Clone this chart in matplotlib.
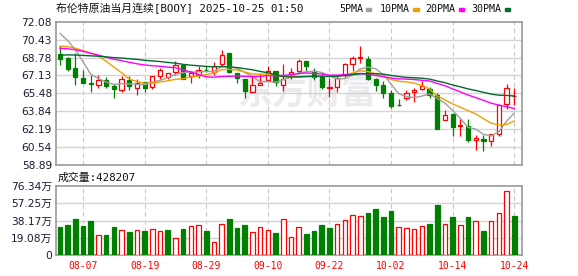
import matplotlib
matplotlib.use("Agg")
import matplotlib.pyplot as plt
import numpy as np
import pandas as pd

# daily candles, 2025-08-04 .. 2025-10-24 (60 trading days)
dates = pd.bdate_range("2025-08-04", "2025-10-24")
opens = [69.07, 68.74, 67.79, 66.89, 66.43, 66.29, 66.68, 66.17, 65.82, 66.74,
         65.97, 66.56, 66.08, 67.04, 66.98, 67.43, 68.09, 67.07, 67.13, 67.68,
         67.43, 68.23, 69.17, 67.37, 66.83, 65.64, 66.23, 66.74, 67.58, 66.23,
         67.28, 67.58, 68.47, 67.43, 66.98, 66.02, 66.08, 67.19, 68.23, 68.74,
         68.62, 66.77, 66.23, 65.52, 64.44, 65.10, 65.58, 65.88, 65.88, 65.34,
         63.07, 63.55, 62.50, 62.47, 61.16, 61.28, 61.07, 61.76, 64.50, 65.22]
highs = [69.88, 68.86, 69.16, 67.67, 67.13, 67.13, 67.01, 66.38, 67.04, 67.04,
         66.83, 66.56, 67.07, 67.82, 67.37, 68.47, 68.09, 67.52, 68.03, 68.03,
         68.41, 69.46, 69.23, 67.37, 66.83, 67.04, 67.37, 68.03, 67.58, 68.18,
         67.82, 68.68, 68.47, 67.82, 67.37, 66.89, 67.19, 68.32, 68.92, 69.82,
         68.92, 66.89, 66.59, 65.76, 64.95, 65.79, 65.94, 66.59, 66.08, 65.49,
         63.99, 63.70, 63.10, 63.13, 61.61, 61.61, 61.76, 64.50, 66.38, 65.94]
lows = [68.09, 67.52, 66.23, 66.40, 65.58, 65.94, 65.96, 65.10, 65.64, 65.82,
        65.34, 65.64, 65.88, 66.83, 66.83, 67.13, 66.77, 66.44, 66.89, 67.43,
        67.19, 68.03, 67.35, 66.44, 65.10, 65.64, 66.23, 66.68, 66.17, 65.70,
        66.83, 67.28, 67.58, 66.68, 65.88, 65.19, 65.58, 66.98, 67.58, 68.32,
        66.68, 65.70, 65.04, 64.14, 64.29, 64.89, 64.68, 65.79, 65.04, 62.20,
        63.07, 61.59, 61.59, 60.98, 60.26, 60.20, 60.62, 61.52, 64.00, 64.44]
closes = [68.68, 67.73, 66.98, 66.44, 66.38, 66.68, 66.17, 65.88, 66.83, 66.20,
          66.47, 66.00, 67.07, 67.67, 67.37, 68.09, 66.77, 67.37, 67.67, 67.62,
          68.03, 68.98, 67.41, 66.92, 65.70, 66.23, 66.47, 67.58, 66.53, 66.83,
          67.49, 68.47, 67.97, 66.98, 66.10, 66.06, 66.89, 68.18, 68.71, 68.83,
          66.83, 66.23, 65.49, 64.32, 64.38, 65.49, 65.79, 66.17, 65.34, 62.20,
          63.46, 62.41, 62.56, 61.16, 61.37, 61.07, 61.70, 64.44, 65.94, 65.28]
# closes before the visible window (needed for the moving averages)
prior_closes = [67.0, 67.3, 67.5, 67.6, 67.8, 67.9, 68.0, 68.0, 68.1, 68.2,
                68.5, 68.9, 69.3, 69.8, 70.2, 70.0, 69.6, 69.4, 69.3, 69.2,
                68.2, 68.5, 68.6, 68.9, 69.2, 71.0, 71.2, 72.0, 72.1]
# volume in 万
volumes = [31.0, 33.2, 39.8, 32.1, 37.6, 21.8, 21.8, 31.0, 27.3, 25.4,
           27.3, 26.5, 28.4, 26.2, 27.3, 18.4, 28.8, 31.7, 32.8, 26.5,
           14.0, 33.9, 39.8, 29.9, 33.2, 25.4, 30.6, 27.3, 24.3, 39.5,
           19.5, 30.6, 23.2, 26.5, 33.2, 29.9, 34.3, 38.7, 44.2, 43.1,
           46.8, 50.9, 42.0, 48.7, 30.6, 29.5, 28.4, 32.1, 34.3, 55.3,
           34.3, 42.0, 33.2, 42.0, 37.6, 26.5, 37.6, 46.5, 70.8, 42.82]

price_ticks = [58.89, 60.54, 62.19, 63.84, 65.48, 67.13, 68.78, 70.43, 72.08]
vol_ticks = [0, 19.08, 38.17, 57.25, 76.34]
vol_tick_labels = ["0", "19.08万", "38.17万", "57.25万", "76.34万"]
ma_periods = [5, 10, 20, 30]
ma_colors = ["#a0a0a0", "#f0a000", "#ff00ff", "#006b2e"]

RED = "#ff0000"
GREEN = "#008000"
GRID = "#d4d4d4"
FRAME = "#999999"
LABEL = "#1a1a33"

W, H = 578, 276
fig = plt.figure(figsize=(W / 100, H / 100), dpi=100)


def box(x0, y0, x1, y1):
    return [x0 / W, 1 - y1 / H, (x1 - x0) / W, (y1 - y0) / H]


ax = fig.add_axes(box(55.5, 21.7, 522.3, 165))
axv = fig.add_axes(box(55.5, 186, 522.3, 255))

n = len(closes)
x = np.arange(n)
o = np.array(opens); c = np.array(closes)
hi = np.array(highs); lo = np.array(lows)
up = c > o

all_close = pd.Series(prior_closes + closes)
prev_close = all_close.shift(1).to_numpy()[len(prior_closes):]
vol_up = c >= prev_close

tick_idx = list(range(3, n, 8))
tick_lbls = [d.strftime("%m-%d") for d in dates[tick_idx]]

for a in (ax, axv):
    a.set_xlim(-0.58, n + 0.05)
    for s in a.spines.values():
        s.set_color(FRAME)
        s.set_linewidth(1.2)
    a.tick_params(length=0, labelsize=7.7, colors=LABEL, pad=2.5)
    for t in tick_idx:
        a.axvline(t, color="#c8c8c8", lw=0.8, ls=(0, (4, 3)), zorder=0)

# watermark
ax.text(0.54, 0.50, "东方财富", transform=ax.transAxes, ha="center", va="center",
        fontsize=25, fontweight="bold", color="#ebebef", family="Noto Sans CJK SC",
        zorder=0)

# price panel
ax.set_ylim(price_ticks[0], price_ticks[-1])
ax.set_yticks(price_ticks)
ax.set_yticklabels([f"{v:.2f}" for v in price_ticks], family="DejaVu Sans")
ax.set_xticks([])
for v in price_ticks[1:-1]:
    ax.axhline(v, color=GRID, lw=1, zorder=0)

bw = 0.55
col = np.where(up, RED, GREEN)
body_lo = np.minimum(o, c)
body_h = np.maximum(np.abs(c - o), 0.03)
ax.vlines(x, lo, hi, colors=col, lw=0.9, zorder=2)
ax.bar(x, body_h, bw, bottom=body_lo, color=np.where(up, "white", GREEN),
       edgecolor=col, lw=0.9, zorder=3)

for p, mc in zip(ma_periods, ma_colors):
    ma = all_close.rolling(p).mean().to_numpy()[len(prior_closes):]
    ax.plot(x, ma, color=mc, lw=1.0, zorder=4)

# volume panel
axv.set_ylim(0, vol_ticks[-1])
axv.set_yticks(vol_ticks)
axv.set_yticklabels(vol_tick_labels, family=["DejaVu Sans", "Noto Sans CJK SC"])
for v in vol_ticks[1:-1]:
    axv.axhline(v, color=GRID, lw=1, zorder=0)
vcol = np.where(vol_up, RED, GREEN)
axv.bar(x, volumes, 0.6, color=np.where(vol_up, "white", GREEN),
        edgecolor=vcol, lw=0.9, zorder=3)
axv.set_xticks(tick_idx)
axv.set_xticklabels(tick_lbls, family="DejaVu Sans Mono", fontsize=7, color=RED)
axv.tick_params(axis="x", pad=4)

# header texts
mixed = ["DejaVu Sans Mono", "Noto Sans CJK SC"]
fig.text(56 / W, 1 - 8.5 / H, "布伦特原油当月连续[BOOY] 2025-10-25 01:50",
         family=mixed, fontsize=7.8, va="center", ha="left", color="#111111")
fig.text(58 / W, 1 - 177.5 / H, "成交量:428207", family=mixed, fontsize=7.8,
         va="center", ha="left", color="#111111")

legend_items = [("5PMA", 339), ("10PMA", 380), ("20PMA", 425.5), ("30PMA", 471.5)]
for (lbl, lx), mc in zip(legend_items, ma_colors):
    t = fig.text(lx / W, 1 - 9.3 / H, lbl, family="DejaVu Sans Mono", fontsize=7.2,
                 va="center", ha="left", color="#111111")
    mx = lx + len(lbl) * 6.1 + 2.5
    fig.patches.append(plt.Rectangle((mx / W, 1 - 10.8 / H), 5.5 / W, 3 / H,
                                     color=mc, transform=fig.transFigure, figure=fig))

fig.savefig("out.png", dpi=100)
